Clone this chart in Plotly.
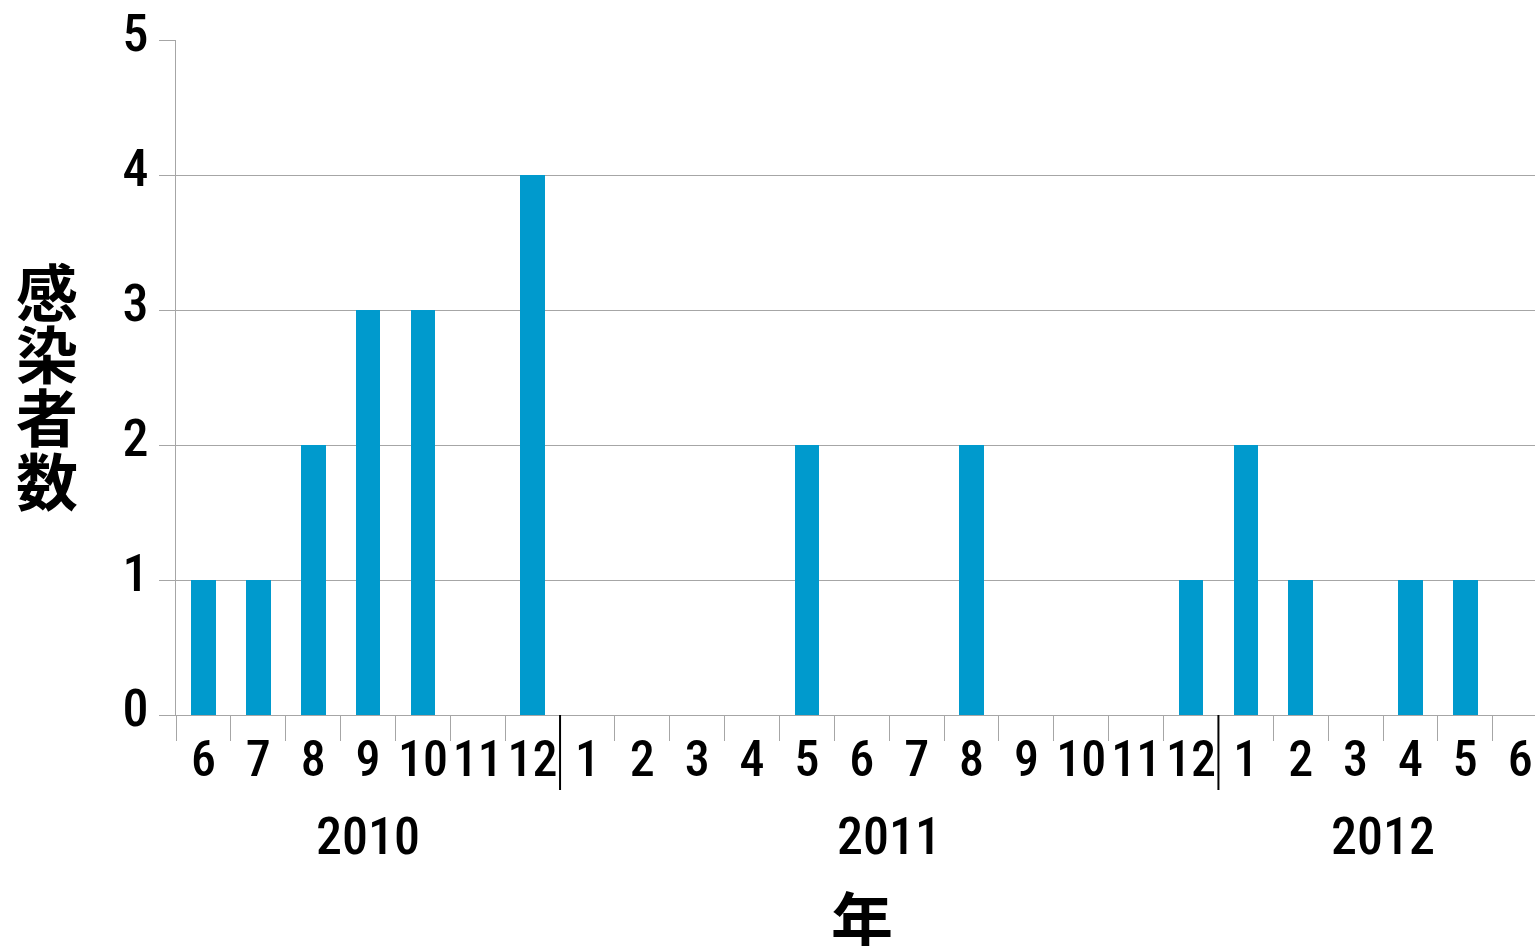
import plotly.graph_objects as go

months = ["6", "7", "8", "9", "10", "11", "12",
          "1", "2", "3", "4", "5", "6", "7", "8", "9", "10", "11", "12",
          "1", "2", "3", "4", "5", "6"]
counts = [1, 1, 2, 3, 3, 0, 4,
          0, 0, 0, 0, 2, 0, 0, 2, 0, 0, 0, 1,
          2, 1, 0, 1, 1, 0]
years = ["2010", "2011", "2012"]
year_start = [0, 7, 19]
year_end = [6, 18, 24]
y_title = ["感", "染", "者", "数"]
y_title_pos = [3.15, 2.69, 2.22, 1.75]

idx = list(range(len(months)))
NUM_FONT = "Roboto Condensed, DejaVu Sans Condensed, sans-serif"
CJK_FONT = "Noto Sans CJK JP"
GRID = "#a6a6a6"
XR = [-0.5, 24.27]
PLOT_H = 675

fig = go.Figure()
fig.add_trace(go.Bar(x=idx, y=counts, width=0.45, marker_color="#009ACD",
                     marker_line_width=0, showlegend=False, hoverinfo="skip"))

fig.update_layout(
    width=1535, height=946,
    margin=dict(l=176, r=0, t=40, b=946 - 40 - PLOT_H, autoexpand=False),
    paper_bgcolor="white", plot_bgcolor="white",
    xaxis=dict(range=XR, tickmode="array", tickvals=idx, ticktext=months,
               tickangle=0, automargin=False,
               ticks="", ticklabelstandoff=0,
               tickfont=dict(family=NUM_FONT, size=50, color="black", weight=500),
               minor=dict(tickmode="array", tickvals=[i - 0.5 for i in idx] + [24.5],
                          ticks="outside", ticklen=25, tickcolor=GRID, tickwidth=1,
                          showgrid=False),
               showgrid=False, zeroline=False, showline=True, linecolor=GRID,
               linewidth=1, fixedrange=True),
    yaxis=dict(range=[0, 5], tickmode="array", tickvals=[0, 1, 2, 3, 4, 5],
               automargin=False,
               ticks="outside", ticklen=16, tickcolor=GRID,
               ticklabelstandoff=0, ticklabelshift=-7, ticklabeloverflow="allow",
               tickfont=dict(family=NUM_FONT, size=52, color="black", weight=500),
               showgrid=True, gridcolor=GRID, gridwidth=1,
               zeroline=False, showline=True, linecolor=GRID, linewidth=1,
               fixedrange=True),
    bargap=0,
)

# year separators below the axis
for s in year_start[1:]:
    fig.add_shape(type="line", xref="x", yref="paper", x0=s - 0.5, x1=s - 0.5,
                  y0=0, y1=-75 / PLOT_H, line=dict(color="black", width=2))

for yr, s, e in zip(years, year_start, year_end):
    fig.add_annotation(x=(s + e) / 2, xref="x", y=0, yref="paper",
                       yanchor="middle", yshift=-(836 - 715),
                       text=yr, showarrow=False,
                       font=dict(family=NUM_FONT, size=52, color="black", weight=500))

for ch, yp in zip(y_title, y_title_pos):
    fig.add_annotation(x=-0.095, xref="paper", y=yp, yref="y", text=ch,
                       showarrow=False, xanchor="center", yanchor="middle",
                       font=dict(family=CJK_FONT, size=62, color="black", weight="bold"))

fig.add_annotation(x=12, xref="x", y=0, yref="paper", yshift=-(918 - 715),
                   text="年", showarrow=False, yanchor="middle",
                   font=dict(family=CJK_FONT, size=62, color="black", weight="bold"))

fig.write_html("out.html", config={"displayModeBar": False},
               post_script="document.body.style.margin='0';"
                           "document.body.style.overflow='hidden';")
